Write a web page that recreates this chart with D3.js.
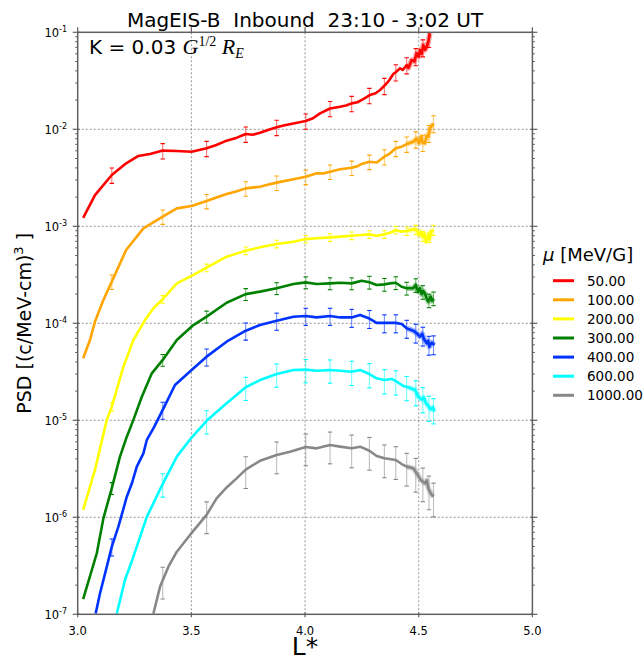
<!DOCTYPE html>
<html>
<head>
<meta charset="utf-8">
<script src="https://cdn.jsdelivr.net/npm/d3@7"></script>
<style>
  html, body { margin: 0; padding: 0; background: #fff; }
  svg { display: block; }
  text { font-family: "DejaVu Sans", sans-serif; fill: #000; }
</style>
</head>
<body>
<svg id="chart" width="644" height="658"></svg>
<script>
// Phase space density vs L* for several first invariants (mu), MagEIS-B inbound pass

const muLabels = ["50.00", "100.00", "200.00", "300.00", "400.00", "600.00", "1000.00"];

const lStar50 = [3.024, 3.076, 3.150, 3.213, 3.267, 3.318, 3.374, 3.436, 3.501, 3.567, 3.610, 3.655, 3.700, 3.739, 3.770, 3.802, 3.840, 3.875, 3.910, 3.949, 4.003, 4.035, 4.066, 4.110, 4.154, 4.180, 4.205, 4.230, 4.256, 4.286, 4.310, 4.330, 4.352, 4.370, 4.388, 4.400, 4.418, 4.430, 4.447, 4.455, 4.469, 4.480, 4.491, 4.500, 4.506, 4.513, 4.520, 4.528, 4.535, 4.542, 4.549];
const psd50 = [1.22e-3, 2.10e-3, 3.38e-3, 4.46e-3, 5.31e-3, 5.56e-3, 6.03e-3, 5.97e-3, 5.87e-3, 6.37e-3, 6.90e-3, 7.64e-3, 8.20e-3, 8.95e-3, 8.80e-3, 9.23e-3, 9.90e-3, 1.05e-2, 1.10e-2, 1.15e-2, 1.22e-2, 1.30e-2, 1.46e-2, 1.64e-2, 1.71e-2, 1.76e-2, 1.85e-2, 1.90e-2, 2.05e-2, 2.26e-2, 2.35e-2, 2.54e-2, 2.86e-2, 3.20e-2, 3.72e-2, 3.90e-2, 4.26e-2, 4.10e-2, 4.60e-2, 4.30e-2, 5.18e-2, 5.00e-2, 6.07e-2, 5.60e-2, 6.58e-2, 6.00e-2, 7.40e-2, 6.60e-2, 7.11e-2, 8.00e-2, 9.77e-2];

const lStar100 = [3.024, 3.054, 3.076, 3.113, 3.150, 3.213, 3.289, 3.374, 3.436, 3.501, 3.567, 3.610, 3.655, 3.700, 3.739, 3.802, 3.840, 3.875, 3.949, 4.003, 4.051, 4.080, 4.110, 4.154, 4.205, 4.230, 4.249, 4.283, 4.315, 4.349, 4.374, 4.399, 4.425, 4.447, 4.476, 4.491, 4.501, 4.510, 4.517, 4.527, 4.535, 4.542, 4.549, 4.557, 4.564];
const psd100 = [4.36e-5, 6.73e-5, 1.04e-4, 1.74e-4, 2.69e-4, 5.70e-4, 9.53e-4, 1.26e-3, 1.53e-3, 1.62e-3, 1.82e-3, 1.98e-3, 2.15e-3, 2.30e-3, 2.46e-3, 2.56e-3, 2.70e-3, 2.82e-3, 3.05e-3, 3.24e-3, 3.52e-3, 3.50e-3, 3.66e-3, 3.87e-3, 4.02e-3, 4.15e-3, 4.39e-3, 4.63e-3, 4.55e-3, 5.22e-3, 5.66e-3, 6.37e-3, 6.62e-3, 7.05e-3, 7.45e-3, 8.07e-3, 7.18e-3, 8.40e-3, 7.30e-3, 7.18e-3, 8.60e-3, 8.39e-3, 1.02e-2, 1.08e-2, 1.15e-2];

const lStar200 = [3.024, 3.076, 3.128, 3.150, 3.201, 3.245, 3.296, 3.333, 3.374, 3.436, 3.501, 3.567, 3.655, 3.739, 3.802, 3.875, 3.949, 4.003, 4.051, 4.110, 4.154, 4.205, 4.249, 4.283, 4.315, 4.349, 4.374, 4.399, 4.425, 4.447, 4.476, 4.491, 4.503, 4.510, 4.517, 4.525, 4.532, 4.542, 4.548, 4.554, 4.564];
const psd200 = [1.19e-6, 3.08e-6, 1.01e-5, 1.38e-5, 3.57e-5, 6.73e-5, 1.08e-4, 1.43e-4, 1.77e-4, 2.58e-4, 3.08e-4, 3.74e-4, 4.86e-4, 5.61e-4, 6.07e-4, 6.58e-4, 6.93e-4, 7.38e-4, 7.52e-4, 7.69e-4, 7.82e-4, 8.00e-4, 8.13e-4, 8.26e-4, 8.00e-4, 8.26e-4, 8.59e-4, 9.16e-4, 8.81e-4, 8.95e-4, 9.31e-4, 9.16e-4, 8.13e-4, 8.80e-4, 7.82e-4, 8.40e-4, 6.93e-4, 8.13e-4, 7.40e-4, 8.81e-4, 9.16e-4];

const lStar300 = [3.024, 3.084, 3.113, 3.150, 3.186, 3.216, 3.245, 3.282, 3.326, 3.374, 3.436, 3.509, 3.567, 3.655, 3.739, 3.802, 3.875, 3.949, 4.003, 4.051, 4.110, 4.154, 4.205, 4.249, 4.283, 4.315, 4.349, 4.374, 4.399, 4.425, 4.447, 4.476, 4.487, 4.498, 4.505, 4.513, 4.520, 4.527, 4.535, 4.542, 4.553, 4.558, 4.564];
const psd300 = [1.43e-7, 4.26e-7, 9.75e-7, 2.00e-6, 4.22e-6, 6.78e-6, 1.01e-5, 1.75e-5, 3.05e-5, 4.19e-5, 6.73e-5, 9.59e-5, 1.17e-4, 1.63e-4, 2.00e-4, 2.12e-4, 2.30e-4, 2.54e-4, 2.64e-4, 2.54e-4, 2.58e-4, 2.62e-4, 2.58e-4, 2.75e-4, 2.65e-4, 2.48e-4, 2.52e-4, 2.58e-4, 2.62e-4, 2.38e-4, 2.30e-4, 2.30e-4, 2.48e-4, 2.12e-4, 2.30e-4, 2.00e-4, 2.15e-4, 2.04e-4, 1.80e-4, 1.67e-4, 1.88e-4, 1.70e-4, 1.81e-4];

const lStar400 = [3.079, 3.098, 3.128, 3.150, 3.179, 3.216, 3.238, 3.260, 3.289, 3.304, 3.333, 3.374, 3.428, 3.501, 3.567, 3.655, 3.739, 3.802, 3.875, 3.949, 4.003, 4.051, 4.110, 4.154, 4.205, 4.242, 4.283, 4.315, 4.349, 4.399, 4.425, 4.447, 4.476, 4.491, 4.506, 4.515, 4.524, 4.535, 4.541, 4.547, 4.557, 4.569];
const psd400 = [1.02e-7, 1.64e-7, 3.10e-7, 4.98e-7, 8.00e-7, 1.63e-6, 2.23e-6, 3.33e-6, 4.56e-6, 6.27e-6, 8.26e-6, 1.28e-5, 2.31e-5, 3.30e-5, 4.53e-5, 6.46e-5, 8.39e-5, 9.59e-5, 1.06e-4, 1.17e-4, 1.19e-4, 1.15e-4, 1.19e-4, 1.15e-4, 1.15e-4, 1.22e-4, 1.12e-4, 1.01e-4, 1.01e-4, 1.01e-4, 9.84e-5, 8.87e-5, 8.39e-5, 7.89e-5, 7.28e-5, 7.80e-5, 6.84e-5, 6.22e-5, 6.60e-5, 5.74e-5, 6.31e-5, 5.97e-5];

const lStar600 = [3.172, 3.208, 3.245, 3.304, 3.374, 3.436, 3.501, 3.567, 3.655, 3.739, 3.802, 3.875, 3.949, 4.003, 4.051, 4.110, 4.154, 4.205, 4.242, 4.283, 4.315, 4.349, 4.381, 4.403, 4.432, 4.454, 4.484, 4.498, 4.513, 4.522, 4.532, 4.542, 4.553, 4.561, 4.569];
const psd600 = [1.02e-7, 2.26e-7, 3.93e-7, 1.01e-6, 2.21e-6, 4.22e-6, 6.64e-6, 9.89e-6, 1.50e-5, 2.19e-5, 2.60e-5, 3.00e-5, 3.30e-5, 3.33e-5, 3.24e-5, 3.30e-5, 3.24e-5, 3.17e-5, 3.30e-5, 3.00e-5, 2.71e-5, 2.60e-5, 2.67e-5, 2.50e-5, 2.26e-5, 2.19e-5, 2.05e-5, 1.75e-5, 1.64e-5, 1.72e-5, 1.50e-5, 1.40e-5, 1.30e-5, 1.36e-5, 1.23e-5];

const lStar1000 = [3.333, 3.362, 3.399, 3.436, 3.494, 3.567, 3.611, 3.655, 3.699, 3.739, 3.802, 3.875, 3.934, 4.003, 4.051, 4.110, 4.154, 4.205, 4.242, 4.283, 4.315, 4.349, 4.399, 4.425, 4.447, 4.476, 4.491, 4.509, 4.527, 4.535, 4.542, 4.553, 4.564];
const psd1000 = [1.02e-7, 1.92e-7, 3.10e-7, 4.42e-7, 6.58e-7, 1.06e-6, 1.57e-6, 2.03e-6, 2.52e-6, 3.10e-6, 3.82e-6, 4.39e-6, 4.74e-6, 5.31e-6, 5.14e-6, 5.56e-6, 5.35e-6, 5.14e-6, 5.35e-6, 4.86e-6, 4.29e-6, 4.06e-6, 3.90e-6, 3.54e-6, 3.33e-6, 3.20e-6, 2.84e-6, 2.43e-6, 2.24e-6, 2.40e-6, 1.99e-6, 1.77e-6, 1.63e-6];

// L* of the sample points that carry an uncertainty bar
const barLStar = [3.150, 3.374, 3.567, 3.739, 3.875, 4.003, 4.110, 4.205, 4.283, 4.349, 4.399, 4.447, 4.487, 4.518, 4.545, 4.565];
// fractional PSD uncertainty at those points, one list per mu
const relErr50   = [0.18, 0.18, 0.18, 0.18, 0.18, 0.18, 0.18, 0.18, 0.18, 0.19, 0.19, 0.19, 0.20, 0.20, 0.20, 0.20];
const relErr100  = [0.17, 0.17, 0.17, 0.17, 0.17, 0.17, 0.17, 0.17, 0.17, 0.18, 0.18, 0.18, 0.19, 0.19, 0.20, 0.20];
const relErr200  = [0.10, 0.09, 0.09, 0.09, 0.09, 0.09, 0.09, 0.09, 0.09, 0.09, 0.09, 0.10, 0.11, 0.11, 0.12, 0.12];
const relErr300  = [0.14, 0.14, 0.14, 0.14, 0.14, 0.14, 0.14, 0.14, 0.15, 0.15, 0.15, 0.15, 0.16, 0.16, 0.16, 0.16];
const relErr400  = [0.20, 0.20, 0.20, 0.20, 0.20, 0.20, 0.20, 0.21, 0.21, 0.21, 0.21, 0.21, 0.22, 0.22, 0.22, 0.22];
const relErr600  = [0.27, 0.27, 0.27, 0.27, 0.27, 0.27, 0.27, 0.28, 0.28, 0.28, 0.28, 0.28, 0.29, 0.29, 0.29, 0.29];
const relErr1000 = [0.36, 0.36, 0.36, 0.36, 0.36, 0.36, 0.36, 0.37, 0.37, 0.37, 0.37, 0.37, 0.38, 0.38, 0.38, 0.38];

const xTicks = [3.0, 3.5, 4.0, 4.5, 5.0];
const yDecades = [-7, -6, -5, -4, -3, -2, -1];

const lineColors = ["#ff0000", "#ffa500", "#ffff00", "#008000", "#0033ff", "#00ffff", "#888888"];

const series = [
  { mu: muLabels[0], L: lStar50,   psd: psd50,   err: relErr50 },
  { mu: muLabels[1], L: lStar100,  psd: psd100,  err: relErr100 },
  { mu: muLabels[2], L: lStar200,  psd: psd200,  err: relErr200 },
  { mu: muLabels[3], L: lStar300,  psd: psd300,  err: relErr300 },
  { mu: muLabels[4], L: lStar400,  psd: psd400,  err: relErr400 },
  { mu: muLabels[5], L: lStar600,  psd: psd600,  err: relErr600 },
  { mu: muLabels[6], L: lStar1000, psd: psd1000, err: relErr1000 }
].map((s, i) => Object.assign(s, { color: lineColors[i] }));

const svg = d3.select("#chart");
const plot = { left: 77.7, right: 532.4, top: 32.3, bottom: 614.3 };

const x = d3.scaleLinear().domain([3, 5]).range([plot.left, plot.right]);
const y = d3.scaleLog().domain([1e-7, 1e-1]).range([plot.bottom, plot.top]);

svg.append("defs").append("clipPath").attr("id", "plotClip")
  .append("rect")
  .attr("x", plot.left).attr("y", plot.top)
  .attr("width", plot.right - plot.left).attr("height", plot.bottom - plot.top);

// dotted grid at interior major ticks
const grid = svg.append("g").attr("stroke", "#8a8a8a").attr("stroke-width", 0.9)
  .attr("stroke-dasharray", "2,2");
xTicks.slice(1, -1).forEach(t => {
  grid.append("line").attr("x1", x(t)).attr("x2", x(t))
    .attr("y1", plot.top).attr("y2", plot.bottom);
});
yDecades.slice(1, -1).forEach(d => {
  grid.append("line").attr("x1", plot.left).attr("x2", plot.right)
    .attr("y1", y(Math.pow(10, d))).attr("y2", y(Math.pow(10, d)));
});

// curves and their uncertainty bars
const lineGen = d3.line().x(d => x(d[0])).y(d => y(d[1]));
const layer = svg.append("g").attr("clip-path", "url(#plotClip)");

// bar centre: PSD of the curve at that L*, read in log space between samples
function psdAt(s, L) {
  const i = d3.bisectLeft(s.L, L);
  if (i <= 0) return s.psd[0];
  if (i >= s.L.length) return s.psd[s.L.length - 1];
  const t = (L - s.L[i - 1]) / (s.L[i] - s.L[i - 1]);
  return Math.pow(10, Math.log10(s.psd[i - 1]) * (1 - t) + Math.log10(s.psd[i]) * t);
}

series.forEach(s => {
  const g = layer.append("g");
  const pts = s.L.map((L, i) => [L, s.psd[i]]);

  // the densely sampled outer end of the pass reads as a soft, thick band
  g.append("path")
    .datum(pts.filter(p => p[0] >= 4.44))
    .attr("d", lineGen)
    .attr("fill", "none")
    .attr("stroke", s.color)
    .attr("stroke-opacity", 0.35)
    .attr("stroke-width", 5.5)
    .attr("stroke-linejoin", "round");

  g.append("path")
    .datum(pts)
    .attr("d", lineGen)
    .attr("fill", "none")
    .attr("stroke", s.color)
    .attr("stroke-width", 2.6)
    .attr("stroke-linejoin", "round")
    .attr("stroke-linecap", "butt");

  const lo = s.L[0], hi = s.L[s.L.length - 1];
  const bars = barLStar.map((L, i) => ({ L, f: s.err[i] }))
    .filter(b => b.L >= lo && b.L <= hi + 0.005)
    .map(b => { const v = psdAt(s, b.L); return { L: b.L, v0: v * (1 - b.f), v1: v * (1 + b.f) }; });

  const eb = g.append("g").attr("stroke", s.color).attr("stroke-width", 1.1);
  bars.forEach(b => {
    const cx = x(b.L);
    eb.append("line").attr("x1", cx).attr("x2", cx)
      .attr("y1", y(b.v0)).attr("y2", y(b.v1)).attr("stroke-opacity", 0.55);
    [b.v0, b.v1].forEach(v => {
      eb.append("line").attr("x1", cx - 2.2).attr("x2", cx + 2.2)
        .attr("y1", y(v)).attr("y2", y(v));
    });
  });
});

// frame and ticks
const axisColor = "#606060";
const frame = svg.append("g").attr("stroke", axisColor);
frame.append("rect")
  .attr("x", plot.left).attr("y", plot.top)
  .attr("width", plot.right - plot.left).attr("height", plot.bottom - plot.top)
  .attr("fill", "none").attr("stroke-width", 1.5);

xTicks.forEach(t => {
  const px = x(t);
  frame.append("line").attr("x1", px).attr("x2", px)
    .attr("y1", plot.bottom - 2).attr("y2", plot.bottom + 3).attr("stroke-width", 1.2);
  frame.append("line").attr("x1", px).attr("x2", px)
    .attr("y1", plot.top - 5).attr("y2", plot.top + 1).attr("stroke-width", 1.2);
});

yDecades.forEach((d, k) => {
  const py = y(Math.pow(10, d));
  frame.append("line").attr("x1", plot.left - 5).attr("x2", plot.left + 2)
    .attr("y1", py).attr("y2", py).attr("stroke-width", 1.2);
  frame.append("line").attr("x1", plot.right - 2).attr("x2", plot.right + 5)
    .attr("y1", py).attr("y2", py).attr("stroke-width", 1.2);
  if (k < yDecades.length - 1) {
    for (let m = 2; m <= 9; m++) {
      const my = y(m * Math.pow(10, d));
      frame.append("line").attr("x1", plot.left - 2.5).attr("x2", plot.left)
        .attr("y1", my).attr("y2", my).attr("stroke-width", 1);
      frame.append("line").attr("x1", plot.right).attr("x2", plot.right + 2.5)
        .attr("y1", my).attr("y2", my).attr("stroke-width", 1);
    }
  }
});

// tick labels
const xl = svg.append("g").attr("font-size", 11.5).attr("text-anchor", "middle");
xTicks.forEach(t => {
  xl.append("text").attr("x", x(t)).attr("y", plot.bottom + 21).text(d3.format(".1f")(t));
});
const yl = svg.append("g").attr("font-size", 11.5).attr("text-anchor", "end");
yDecades.forEach(d => {
  const tx = yl.append("text").attr("x", 67).attr("y", y(Math.pow(10, d)) + 5);
  tx.append("tspan").text("10");
  tx.append("tspan").attr("font-size", 8).attr("dy", -5).text("-" + Math.abs(d));
});

// axis titles
svg.append("text").attr("x", (plot.left + plot.right) / 2).attr("y", 655)
  .attr("text-anchor", "middle").attr("font-size", 25).text("L*");

const yt = svg.append("text")
  .attr("transform", `translate(31,${(plot.top + plot.bottom) / 2}) rotate(-90)`)
  .attr("text-anchor", "middle").attr("font-size", 19);
yt.append("tspan").text("PSD [(c/MeV-cm)");
yt.append("tspan").attr("font-size", 13).attr("dy", -8).text("3");
yt.append("tspan").attr("dy", 8).text(" ]");

// title
svg.append("text").attr("x", (plot.left + plot.right) / 2).attr("y", 27)
  .attr("text-anchor", "middle").attr("font-size", 20)
  .style("white-space", "pre")
  .text("MagEIS-B  Inbound  23:10 - 3:02 UT");

// second invariant annotation
const kt = svg.append("text").attr("x", 89).attr("y", 54).attr("font-size", 20)
  .style("white-space", "pre");
kt.append("tspan").text("K = 0.03 ");
kt.append("tspan").attr("font-family", "'Liberation Serif', serif").attr("font-style", "italic")
  .attr("font-size", 22).text("G");
kt.append("tspan").attr("font-family", "'Liberation Serif', serif")
  .attr("font-size", 14).attr("dy", -8).text("1/2");
kt.append("tspan").attr("font-family", "'Liberation Serif', serif").attr("font-style", "italic")
  .attr("font-size", 22).attr("dy", 8).text(" R");
kt.append("tspan").attr("font-family", "'Liberation Serif', serif").attr("font-style", "italic")
  .attr("font-size", 14).attr("dy", 4).text("E");

// legend
const leg = svg.append("g");
const lt = leg.append("text").attr("x", 543).attr("y", 261).attr("font-size", 18);
lt.append("tspan").attr("font-style", "italic").text("\u03bc");
lt.append("tspan").text(" [MeV/G]");
series.forEach((s, i) => {
  const ly = 280.7 + i * 19.1;
  leg.append("line").attr("x1", 553).attr("x2", 574).attr("y1", ly).attr("y2", ly)
    .attr("stroke", s.color).attr("stroke-width", 3);
  leg.append("text").attr("x", 587).attr("y", ly + 5).attr("font-size", 13.5).text(s.mu);
});
</script>
</body>
</html>
